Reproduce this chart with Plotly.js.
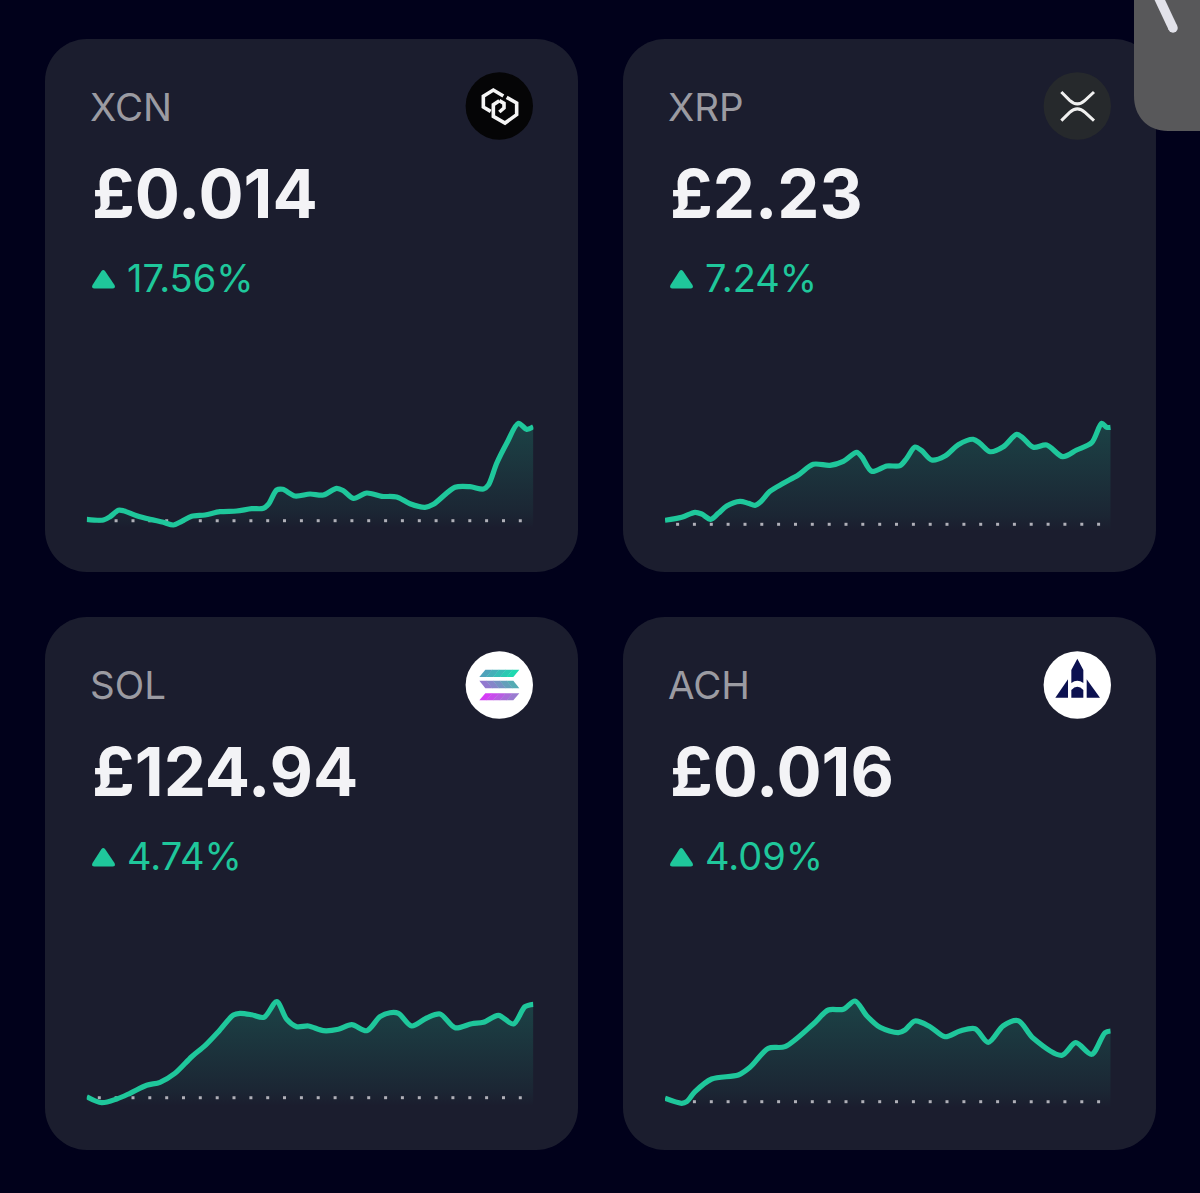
<!DOCTYPE html>
<html>
<head>
<meta charset="utf-8">
<script src="https://cdn.plot.ly/plotly-3.0.1.min.js"></script>
<style>html,body{margin:0;padding:0;background:#01011b;overflow:hidden}#chart{width:1200px;height:1193px}</style>
</head>
<body>
<div id="chart"></div>
<script>
// ---------- data ----------
const tickSteps = [12.6,29.4,46.3,63.1,80,96.8,113.6,130.5,147.3,164.2,181,197.8,214.7,231.5,248.4,265.2,282,298.9,315.7,332.6,349.4,366.2,383.1,399.9,416.8,433.6];

const symbols = ['XCN','XRP','SOL','ACH'];
const prices = ['£0.014','£2.23','£124.94','£0.016'];
const changes = ['17.56%','7.24%','4.74%','4.09%'];

const xcnX = [0,16.7,23.3,31.7,36.7,50,63.3,76.7,86.7,95,105,118.3,133.3,150,165,176.7,181.7,190,196,208.3,223.3,236.7,250,256.7,266.7,280,295,310,323.3,338.3,346.7,368.3,383.3,396.7,401.7,410,420,431.7,440,446.7];
const xcnY = [8.7,8,11.3,17.7,17.3,12.3,8.7,5.7,3,6.7,11.7,13,16.3,17,19.3,19.7,23.7,38,38.7,32,34,33,39.7,37.3,29.7,35,31.7,31,24.3,20.7,23.7,40.7,41.3,39,43,64.7,84.7,104.7,98.7,101.3];

const xrpX = [0,16.7,30,36.7,45.7,53.3,61.7,75,83.3,90,95.7,105,118.3,133.3,148.3,165,178.3,191.7,196.7,206.7,221.7,235,241.7,250,256.7,266.7,280,293.3,308.3,315,325,338.3,351.7,358.3,368.3,381.7,397.7,411.7,426.7,436.7,441.7,445.7];
const xrpY = [10.7,13.7,18.7,17,11.7,17.7,25,29.7,27.7,25.7,29.3,39.7,47.7,56,66.7,65.7,69.7,78.7,74.3,59.7,65,65.3,72.7,84,80.3,71,75,86.3,91.7,87.7,79.3,84.3,96.7,92.7,83.7,86,74.3,81,88.3,107.7,103.7,103.7];

const solX = [0,15,30,43.3,60,73.3,88.3,105,118.3,131.7,146.7,153.3,165,177.3,190,200,210,221.7,236.7,251.7,265,280,293.3,303.3,311.7,325,340,353.3,368.3,385,396.7,411.7,426.7,438.3,446.7];
const solY = [9.3,3.3,7,12.7,20.7,23.7,32.7,49.3,60.3,74.3,91,92.7,91.3,88.7,104.3,86.7,79.3,80,75.3,76.7,81.3,75.3,89.3,93.3,92.7,80,88,92,78.3,82.3,83.7,90.7,82,99.3,101.7];

const achX = [0,16.7,21.7,30,46.7,73.3,85,103.3,120,148.3,163.3,178.3,190,201.7,215,233.3,240,250,265,280,295,310,323.3,338.3,353.3,368.3,396.7,410.7,426.7,440,445.7];
const achY = [9.7,4.7,6.3,16.3,29,33,40.7,59.7,61.3,84,98,98.7,107,92.3,80.7,75.3,78,87,81.3,71.3,77,79.3,65.7,82.3,87.3,69.7,52.7,65.3,53.7,75.3,77];

const xSeries = [xcnX,xrpX,solX,achX];
const ySeries = [xcnY,xrpY,solY,achY];
const tickLevels = [7.3,6.7,8.3,6.3];

// ---------- style / layout ----------
const W = 1200, H = 1193;
const BG = '#01011b', CARD = '#1b1d2e', GREEN = '#1fc79b';
const cards = [[45,39],[623,39],[45,617],[623,617]];
const plots = [[86.7,533.4,528],[665,1110.7,531],[86.7,533.4,1106],[665,1110.7,1108]];
const PLOT_H = 130;

const px = x => x / W, py = y => 1 - y / H;
// map a path written in pixels to paper fractions
function mapPath(d, fx, fy) {
  let isX = true;
  return d.replace(/-?\d+(\.\d+)?/g, m => {
    const v = parseFloat(m);
    const r = isX ? fx(v) : fy(v);
    isX = !isX;
    return r.toFixed(6);
  });
}
const paperPath = d => mapPath(d, px, py);
function roundRect(x, y, w, h, r) {
  const k = r * 0.45;
  return `M ${x+r} ${y} L ${x+w-r} ${y} C ${x+w-k} ${y} ${x+w} ${y+k} ${x+w} ${y+r} L ${x+w} ${y+h-r} C ${x+w} ${y+h-k} ${x+w-k} ${y+h} ${x+w-r} ${y+h} L ${x+r} ${y+h} C ${x+k} ${y+h} ${x} ${y+h-k} ${x} ${y+h-r} L ${x} ${y+r} C ${x} ${y+k} ${x+k} ${y} ${x+r} ${y} Z`;
}
const shapes = [];
const fillShape = (d, color) => shapes.push({type:'path', xref:'paper', yref:'paper', layer:'below', path:paperPath(d), fillcolor:color, line:{width:0}});
const strokeShape = (d, color, w) => shapes.push({type:'path', xref:'paper', yref:'paper', layer:'below', path:paperPath(d), fillcolor:'rgba(0,0,0,0)', line:{color:color, width:w}});
const circle = (cx, cy, r, color) => shapes.push({type:'circle', xref:'paper', yref:'paper', layer:'below', x0:px(cx-r), x1:px(cx+r), y0:py(cy+r), y1:py(cy-r), fillcolor:color, line:{width:0}});

// icon paths are drawn in 3x crop units, relative to the crop origin
const icon = (d, ox, oy) => mapPath(d, v => ox + v/3, v => oy + v/3);

// cards
cards.forEach(([x,y]) => fillShape(roundRect(x,y,533,533,42), CARD));

// up triangles
cards.forEach(([x,y]) => {
  const tx = x + 47, ty = y + 230;
  fillShape(`M ${tx+9.5} ${ty+2} Q ${tx+11.2} ${ty} ${tx+13} ${ty+2} L ${tx+22.5} ${ty+16} Q ${tx+24} ${ty+19.5} ${tx+20.5} ${ty+19.5} L ${tx+2.5} ${ty+19.5} Q ${tx-1} ${ty+19.5} ${tx+0.5} ${ty+16} Z`, GREEN);
});

// XCN icon
circle(499.3,106,33.7,'#050506');
[
 'M 92 130 L 70 117 L 70 85 L 100 66 L 130 84',
 'M 140 88 L 170 105 L 170 140 L 135 165 L 100 145 L 100 110 L 118 98',
 'M 118 98 L 132 106 L 132 120 L 118 132'
].forEach(d => strokeShape(icon(d,460,68),'#f5f5f5',3.6));

// XRP icon
circle(1077.3,106,33.7,'#26292c');
[
 'M 70 72 L 95 97 Q 118 118 141 97 L 168 72',
 'M 70 158 L 95 133 Q 118 112 141 133 L 168 158'
].forEach(d => strokeShape(icon(d,1038,68),'#f0f0f0',3));

// SOL icon
circle(499.3,685,33.7,'#ffffff');
function slab(x0T, x1T, x0B, x1B, yT, yB, c) {
  const n = c.length;
  for (let i = 0; i < n; i++) {
    const a = i/n, b = (i+1)/n + (i < n-1 ? 0.01 : 0);
    const tl = x0T+(x1T-x0T)*a, tr = x0T+(x1T-x0T)*b, bl = x0B+(x1B-x0B)*a, br = x0B+(x1B-x0B)*b;
    fillShape(icon(`M ${tl} ${yT} L ${tr} ${yT} L ${br} ${yB} L ${bl} ${yB} Z`,460,646), c[i]);
  }
}
slab(76,178,58,160,71,93,['#4fa3ba','#45afb8','#39bcb6','#2cc9b3','#20d8b0']);
slab(58,160,76,178,104,127,['#9279cf','#8586c9','#7592c2','#649fba','#55abb3']);
slab(76,178,58,160,142,163,['#d53cf5','#c84cec','#b85de2','#a86dd8','#9a7bd0']);

// ACH icon
circle(1077.3,685,33.7,'#ffffff');
const NAVY = '#0c1150';
[
 'M 118 38 L 136 72 L 136 111 Q 118 98 100 111 L 100 72 Z',
 'M 100 155 L 100 132 Q 118 112 136 132 L 136 155 Z',
 'M 90 100 L 90 155 L 52 155 Z',
 'M 146 100 L 146 155 L 186 155 Z'
].forEach(d => fillShape(icon(d,1038,646),NAVY));

// overlay button, top right
fillShape(`M 1134 0 L 1200 0 L 1200 131 L 1168 131 C 1147 131 1134 116 1134 96 Z`, '#58585a');
strokeShape(`M 1157 -6 L 1173 28`, '#e2e2ea', 9.5);
circle(1173,28,4.75,'#e2e2ea');

// text
const annotations = [];
const note = (text, x, y, size, weight, color) => annotations.push({
  xref:'paper', yref:'paper', x:px(x), y:py(y), xanchor:'left', yanchor:'middle', showarrow:false,
  text, borderpad:0, align:'left', font:{family:'Inter, sans-serif', size, weight, color}
});
const labelX = [89,666.5,89,667], priceX = [90.5,668.5,90.5,668.5], changeX = [126,704,126,704];
const labelSize = 38.5, priceSize = 67, changeSize = 38;
symbols.forEach((s,i) => {
  const oy = cards[i][1] - 39;
  note(s, labelX[i], oy+107, labelSize, 400, '#9b9ba2');
  note(prices[i], priceX[i], oy+193, priceSize, 700, '#f3f3f6');
  note(changes[i], changeX[i], oy+278, changeSize, 400, GREEN);
});

// traces and axes
const traces = [];
const layout = {
  width:W, height:H, autosize:false, margin:{l:0,r:0,t:0,b:0,pad:0},
  paper_bgcolor:BG, plot_bgcolor:'rgba(0,0,0,0)', showlegend:false, hovermode:false,
  shapes, annotations
};
symbols.forEach((s,i) => {
  const [l,r,base] = plots[i];
  const suffix = i === 0 ? '' : String(i+1);
  const xa = 'x'+suffix, ya = 'y'+suffix;
  layout['xaxis'+suffix] = {visible:false, domain:[px(l),px(r)], range:[0,r-l], anchor:ya, fixedrange:true};
  layout['yaxis'+suffix] = {visible:false, domain:[py(base),py(base-PLOT_H)], range:[0,PLOT_H], anchor:xa, fixedrange:true};
  traces.push({x:xSeries[i], y:ySeries[i], xaxis:xa, yaxis:ya, type:'scatter', mode:'lines', hoverinfo:'skip',
    line:{width:0, shape:'spline', smoothing:0.85}, fill:'tozeroy',
    fillgradient:{type:'vertical', colorscale:[[0,'rgba(31,199,155,0.0)'],[0.14,'rgba(31,199,155,0.05)'],[1,'rgba(31,199,155,0.22)']]}});
  traces.push({x:tickSteps, y:tickSteps.map(()=>tickLevels[i]), xaxis:xa, yaxis:ya, type:'scatter', mode:'markers', hoverinfo:'skip',
    marker:{symbol:'square', size:3, color:'#b0b0b8', line:{width:0}}});
  traces.push({x:xSeries[i], y:ySeries[i], xaxis:xa, yaxis:ya, type:'scatter', mode:'lines', hoverinfo:'skip',
    line:{width:5.2, color:GREEN, shape:'spline', smoothing:0.85}});
});
Plotly.newPlot('chart', traces, layout, {displayModeBar:false, staticPlot:true});
</script>
</body>
</html>
